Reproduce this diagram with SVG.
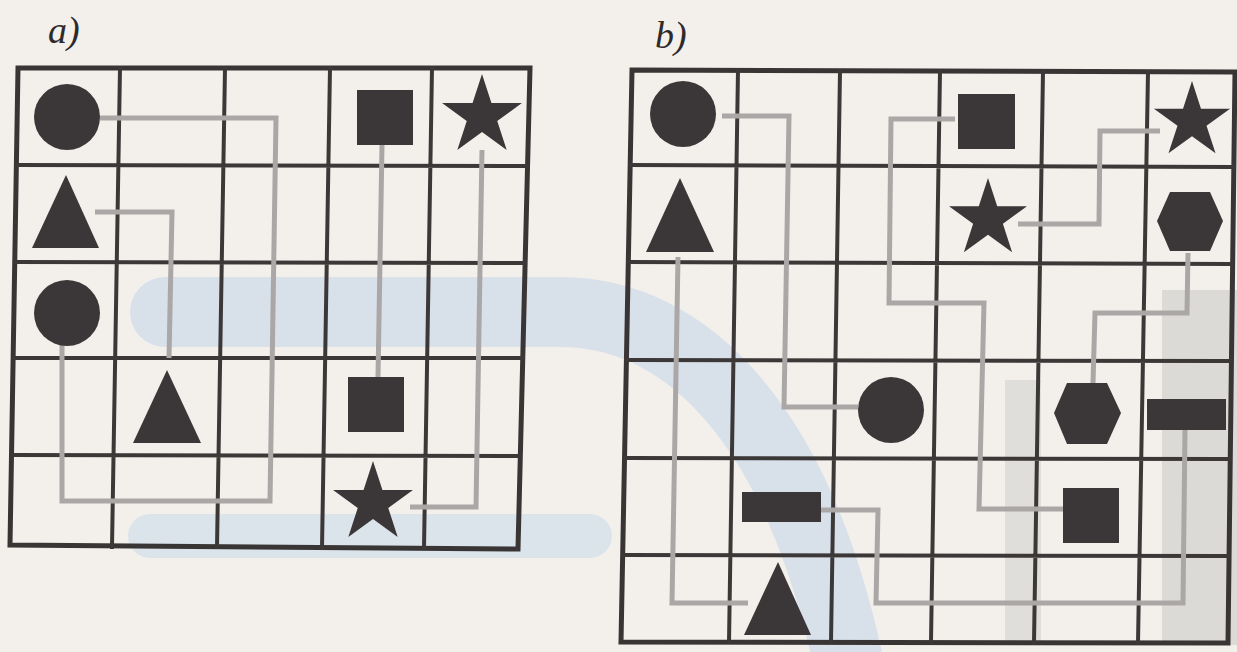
<svg xmlns="http://www.w3.org/2000/svg" width="1237" height="652" viewBox="0 0 1237 652">
<style>
.grid{fill:none;stroke:#3d3838;stroke-width:4;stroke-linecap:square}
.border{fill:none;stroke:#3a3535;stroke-width:5;stroke-linejoin:miter}
.shape{fill:#3b3637}
.conn{fill:none;stroke:#aaa7a6;stroke-width:5;stroke-linejoin:miter}
.label{font-family:"Liberation Serif",serif;font-style:italic;font-size:38px;fill:#2e2a2a}
</style>
<defs>
<polygon id="star" points="0,-1 0.2245,-0.309 0.951,-0.309 0.363,0.118 0.588,0.809 0,0.382 -0.588,0.809 -0.363,0.118 -0.951,-0.309 -0.2245,-0.309"/>
</defs>
<rect x="0" y="0" width="1237" height="652" fill="#f3f0ec"/>
<g id="watermark" fill="none">
<path d="M165,312 H560 C690,312 800,430 850,670" stroke="#d8e1ea" stroke-width="70" stroke-linecap="round"/>
<path d="M150,536 H590" stroke="#dbe3eb" stroke-width="44" stroke-linecap="round"/>
<rect x="1005" y="380" width="36" height="265" fill="#e0dedb"/>
<rect x="1162" y="290" width="75" height="355" fill="#dcdad7"/>
</g>
<text class="label" x="48" y="43">a)</text>
<text class="label" x="655" y="48">b)</text>
<g id="grid-a">
<polygon class="border" points="18,68 530,68 518,549 10,545"/>
<path class="grid" d="M120,68 L112,547 M225,68 L217,547 M330,68 L322,548 M432,68 L424,548 M16,165 L528,166 M15,262 L525,263 M13,358 L523,358 M12,455 L520,456"/>
</g>
<g id="grid-b">
<polygon class="border" points="632,70 1235,72 1228,643 621,642"/>
<path class="grid" d="M738,70 L729,642 M840,71 L831,642 M940,71 L931,642 M1043,71 L1034,643 M1148,72 L1138,643 M630,165 L1233,167 M628,262 L1232,264 M627,360 L1231,361 M625,458 L1230,459 M623,555 L1229,556"/>
</g>
<g id="connectors">
<path class="conn" d="M100,118 H276 L270,501 H62 V345"/>
<path class="conn" d="M95,212 H172 L169,358"/>
<path class="conn" d="M382,145 L378,377"/>
<path class="conn" d="M482,150 L476,507 H410"/>
<path class="conn" d="M722,116 H789 L784,407 H858"/>
<path class="conn" d="M678,257 L672,603 H748"/>
<path class="conn" d="M955,119 H891 L889,303 H984 L979,509 H1063"/>
<path class="conn" d="M1160,131 H1100 L1099,224 H1018"/>
<path class="conn" d="M1188,253 L1187,313 H1095 L1093,383"/>
<path class="conn" d="M1185,430 L1183,603 H876 L878,510 H821"/>
</g>
<g id="a-r1c1-circle"><circle class="shape" cx="67" cy="117" r="33"/></g>
<g id="a-r1c4-square"><rect class="shape" x="357" y="90" width="56" height="55"/></g>
<g id="a-r1c5-star"><use href="#star" class="shape" transform="translate(482,116) scale(42)"/></g>
<g id="a-r2c1-triangle"><polygon class="shape" points="66,175 99,248 32,248"/></g>
<g id="a-r3c1-circle"><circle class="shape" cx="67" cy="313" r="33"/></g>
<g id="a-r4c2-triangle"><polygon class="shape" points="167,370 201,443 133,443"/></g>
<g id="a-r4c4-square"><rect class="shape" x="348" y="377" width="56" height="55"/></g>
<g id="a-r5c4-star"><use href="#star" class="shape" transform="translate(373,503) scale(42)"/></g>
<g id="b-r1c1-circle"><circle class="shape" cx="683" cy="114" r="33"/></g>
<g id="b-r1c4-square"><rect class="shape" x="958" y="94" width="57" height="55"/></g>
<g id="b-r1c6-star"><use href="#star" class="shape" transform="translate(1192,121) scale(40)"/></g>
<g id="b-r2c1-triangle"><polygon class="shape" points="680,178 714,252 646,252"/></g>
<g id="b-r2c4-star"><use href="#star" class="shape" transform="translate(988,219) scale(41)"/></g>
<g id="b-r2c6-hexagon"><polygon class="shape" points="1170,192 1210,192 1223,221 1210,251 1170,251 1157,221"/></g>
<g id="b-r4c3-circle"><circle class="shape" cx="891" cy="410" r="33"/></g>
<g id="b-r4c5-hexagon"><polygon class="shape" points="1067,383 1107,383 1121,413 1107,444 1067,444 1054,413"/></g>
<g id="b-r4c6-bar"><rect class="shape" x="1147" y="399" width="79" height="31"/></g>
<g id="b-r5c2-bar"><rect class="shape" x="742" y="492" width="79" height="30"/></g>
<g id="b-r5c5-square"><rect class="shape" x="1063" y="488" width="56" height="55"/></g>
<g id="b-r6c2-triangle"><polygon class="shape" points="778,562 811,635 744,635"/></g>
</svg>
